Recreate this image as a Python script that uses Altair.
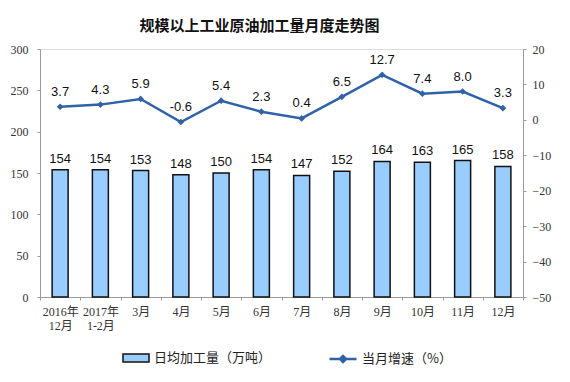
import altair as alt
import pandas as pd

months = ["2016年|12月", "2017年|1-2月", "3月", "4月", "5月", "6月",
          "7月", "8月", "9月", "10月", "11月", "12月"]
output = [154, 154, 153, 148, 150, 154, 147, 152, 164, 163, 165, 158]
growth = [3.7, 4.3, 5.9, -0.6, 5.4, 2.3, 0.4, 6.5, 12.7, 7.4, 8.0, 3.3]
left_ticks = [0, 50, 100, 150, 200, 250, 300]
right_ticks = [-50, -40, -30, -20, -10, 0, 10, 20]
bar_name = "日均加工量（万吨）"
line_name = "当月增速（%）"
title_text = "规模以上工业原油加工量月度走势图"

df = pd.DataFrame({
    "month": months,
    "output": output,
    "growth": growth,
    "bar_s": bar_name,
    "line_s": line_name,
})
df["glabel"] = [f"{g:.1f}" for g in growth]

LINE = "#2F62A8"
BARFILL = "#99CCFF"
AXC = "#9A9A9A"
SERIF = "Liberation Serif, Noto Sans CJK SC"
SANS = "Liberation Sans, Arial"
CJK = "Noto Sans CJK SC"

x = alt.X(
    "month:N", sort=months,
    scale=alt.Scale(paddingInner=0, paddingOuter=0),
    axis=alt.Axis(
        title=None, labelAngle=0, labelExpr="split(datum.label, '|')",
        tickBand="extent", tickSize=3, tickColor=AXC, domainColor=AXC,
        labelFont=SERIF, labelFontSize=12, labelColor="#333",
        labelLineHeight=14, labelPadding=6, grid=False,
    ),
)

yl_scale = alt.Scale(domain=[0, 300], nice=False)
yr_scale = alt.Scale(domain=[-50, 20], nice=False)

bars = alt.Chart(df).mark_bar(size=16, stroke="#111111", strokeWidth=1.5).encode(
    x=x,
    y=alt.Y("output:Q", scale=yl_scale, axis=alt.Axis(
        orient="left", title=None, values=left_ticks, grid=False,
        tickSize=3, tickColor=AXC, domainColor=AXC,
        labelFont=SERIF, labelFontSize=12, labelColor="#333", labelPadding=9)),
    fill=alt.Fill("bar_s:N", scale=alt.Scale(range=[BARFILL]), legend=alt.Legend(
        title=None, orient="none", legendX=82, legendY=295,
        symbolType="M-1,-0.3H1V0.3H-1Z", symbolSize=676,
        symbolStrokeColor="#111111", symbolStrokeWidth=1.5,
        labelFont=CJK, labelFontSize=13, labelColor="#222", labelOffset=4)),
)

bar_text = alt.Chart(df).mark_text(
    baseline="middle", dy=-11, font=SANS, fontSize=13, color="#111"
).encode(
    x=x,
    y=alt.Y("output:Q", scale=yl_scale, axis=None),
    text=alt.Text("output:Q"),
)

line = alt.Chart(df).mark_line(strokeWidth=2.5).encode(
    x=x,
    y=alt.Y("growth:Q", scale=yr_scale, axis=alt.Axis(
        orient="right", title=None, values=right_ticks, grid=False,
        tickSize=3, tickColor=AXC, domainColor=AXC,
        labelFont=SERIF, labelFontSize=12, labelColor="#333", labelPadding=6)),
    stroke=alt.Stroke("line_s:N", scale=alt.Scale(range=[LINE]), legend=alt.Legend(
        title=None, orient="none", legendX=288, legendY=295,
        symbolType="M-1,0H-0.22L0,-0.22L0.22,0H1M0.22,0L0,0.22L-0.22,0Z",
        symbolSize=729, symbolFillColor=LINE, symbolStrokeWidth=2.5,
        labelFont=CJK, labelFontSize=13, labelColor="#222", labelOffset=4)),
)

points = alt.Chart(df).mark_point(shape="diamond", filled=True, size=45, opacity=1, color=LINE).encode(
    x=x,
    y=alt.Y("growth:Q", scale=yr_scale, axis=None),
)

line_text = alt.Chart(df).mark_text(
    baseline="middle", dy=-15, font=SANS, fontSize=13, color="#111"
).encode(
    x=x,
    y=alt.Y("growth:Q", scale=yr_scale, axis=None),
    text=alt.Text("glabel:N"),
)

chart = alt.layer(bars, bar_text, line, points, line_text).resolve_scale(
    y="independent"
).properties(
    width=483, height=248,
    title=alt.TitleParams(title_text, font=CJK, fontSize=15, fontWeight="bold",
                          color="#111", anchor="middle", dx=-22, offset=9),
    autosize=alt.AutoSizeParams(type="none"),
    padding={"left": 32, "top": 41, "right": 38, "bottom": 70},
).configure_view(stroke=None).configure(background="white")

chart.save("out.html", embed_options={"renderer": "svg", "actions": False})
